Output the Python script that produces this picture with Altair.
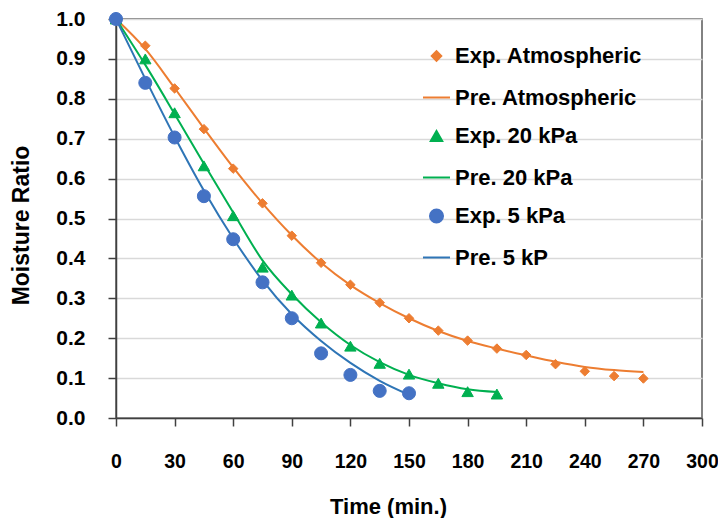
import altair as alt
import pandas as pd

# ---- data ----
series_names = ["Exp. Atmospheric", "Pre. Atmospheric", "Exp. 20 kPa",
                "Pre. 20 kPa", "Exp. 5 kPa", "Pre. 5 kP"]
series_colors = ["#ED7D31", "#ED7D31", "#00B050", "#00B050", "#4472C4", "#2E75B6"]
series_shapes = ["diamond", "stroke", "triangle-up", "stroke", "circle", "stroke"]
series_sizes = [90, 729, 130, 729, 170, 729]

time_atm = [0, 15, 30, 45, 60, 75, 90, 105, 120, 135, 150, 165, 180, 195, 210, 225, 240, 255, 270]
exp_atm = [1.0, 0.933, 0.826, 0.724, 0.625, 0.538, 0.457, 0.389, 0.334, 0.289, 0.25,
           0.219, 0.194, 0.174, 0.158, 0.135, 0.117, 0.105, 0.099]
pre_atm = [1.0, 0.925, 0.827, 0.726, 0.628, 0.538, 0.458, 0.389, 0.333, 0.288, 0.25,
           0.218, 0.193, 0.174, 0.157, 0.141, 0.128, 0.12, 0.115]

time_20 = [0, 15, 30, 45, 60, 75, 90, 105, 120, 135, 150, 165, 180, 195]
exp_20 = [1.0, 0.90, 0.765, 0.632, 0.507, 0.378, 0.308, 0.238, 0.18, 0.137, 0.11, 0.087, 0.066, 0.06]
pre_20 = [1.0, 0.885, 0.762, 0.637, 0.515, 0.395, 0.31, 0.24, 0.183, 0.14, 0.108, 0.087, 0.072, 0.065]

time_5 = [0, 15, 30, 45, 60, 75, 90, 105, 120, 135, 150]
exp_5 = [1.0, 0.84, 0.703, 0.556, 0.448, 0.34, 0.25, 0.162, 0.108, 0.068, 0.062]
pre_5 = [1.0, 0.85, 0.705, 0.57, 0.45, 0.345, 0.26, 0.193, 0.138, 0.093, 0.058]

x_ticks = list(range(0, 301, 30))
y_ticks = [i / 10 for i in range(0, 11)]

rows = []
for name, kind, ts, vs in [
    (series_names[0], "Exp", time_atm, exp_atm),
    (series_names[1], "Pre", time_atm, pre_atm),
    (series_names[2], "Exp", time_20, exp_20),
    (series_names[3], "Pre", time_20, pre_20),
    (series_names[4], "Exp", time_5, exp_5),
    (series_names[5], "Pre", time_5, pre_5),
]:
    for t, v in zip(ts, vs):
        rows.append({"time": t, "mr": v, "series": name, "kind": kind})
df = pd.DataFrame(rows)

FONT = "Liberation Sans"

x_enc = alt.X("time:Q", title="Time (min.)",
              scale=alt.Scale(domain=[0, 300], nice=False),
              axis=alt.Axis(values=x_ticks, grid=False, tickSize=8, labelPadding=26,
                            labelFlush=False, labelOverlap=False,
                            labelFontSize=19.5, labelFontWeight="bold", labelColor="#000000",
                            domainColor="#404040", tickColor="#404040", domainWidth=1.5, tickWidth=1.5,
                            titleFontSize=22, titleFontWeight="bold", titleColor="#000000",
                            titleX=272, titleY=95, titleBaseline="alphabetic", titleAlign="center"))
y_enc = alt.Y("mr:Q", title="Moisture Ratio",
              scale=alt.Scale(domain=[0, 1], nice=False),
              axis=alt.Axis(values=y_ticks, format=".1f", grid=True, gridColor="#d9d9d9", gridWidth=1.5,
                            tickSize=8, labelPadding=23, labelFlush=False, labelOverlap=False,
                            labelFontSize=21, labelFontWeight="bold", labelColor="#000000",
                            domainColor="#404040", tickColor="#404040", domainWidth=1.5, tickWidth=1.5,
                            titleFontSize=23, titleFontWeight="bold", titleColor="#000000",
                            titleX=-88, titleY=206, titleBaseline="alphabetic", titleAlign="center",
                            titleAngle=270))

legend = alt.Legend(title=None, orient="none", legendX=306, legendY=26, direction="vertical",
                    labelFontSize=22, labelFontWeight="bold", labelColor="#000000", labelFont=FONT,
                    labelLimit=400, symbolStrokeWidth=2, rowPadding=16, labelOffset=4,
                    padding=0, symbolOpacity=1)

dom = series_names
col_scale = alt.Scale(domain=dom, range=series_colors)

lines = alt.Chart(df).transform_filter(alt.datum.kind == "Pre").mark_line(
    strokeWidth=2, interpolate="monotone"
).encode(
    x=x_enc, y=y_enc,
    stroke=alt.Stroke("series:N", scale=col_scale, sort=dom, legend=legend),
)

points = alt.Chart(df).transform_filter(alt.datum.kind == "Exp").mark_point(
    filled=True, opacity=1, strokeWidth=1
).encode(
    x=x_enc, y=y_enc,
    fill=alt.Fill("series:N", scale=col_scale, sort=dom, legend=legend),
    stroke=alt.Stroke("series:N", scale=col_scale, sort=dom, legend=legend),
    shape=alt.Shape("series:N", scale=alt.Scale(domain=dom, range=series_shapes), sort=dom, legend=legend),
    size=alt.Size("series:N", scale=alt.Scale(type="ordinal", domain=dom, range=series_sizes),
                  sort=dom, legend=legend),
)

chart = alt.layer(lines, points).properties(
    width=586, height=399,
    autosize=alt.AutoSizeParams(type="none"),
    padding={"left": 108, "top": 11, "right": 16, "bottom": 100},
).configure(font=FONT).configure_view(
    stroke="#595959", strokeWidth=1.5
)

chart.save("out.html", embed_options={"renderer": "svg", "actions": False})
